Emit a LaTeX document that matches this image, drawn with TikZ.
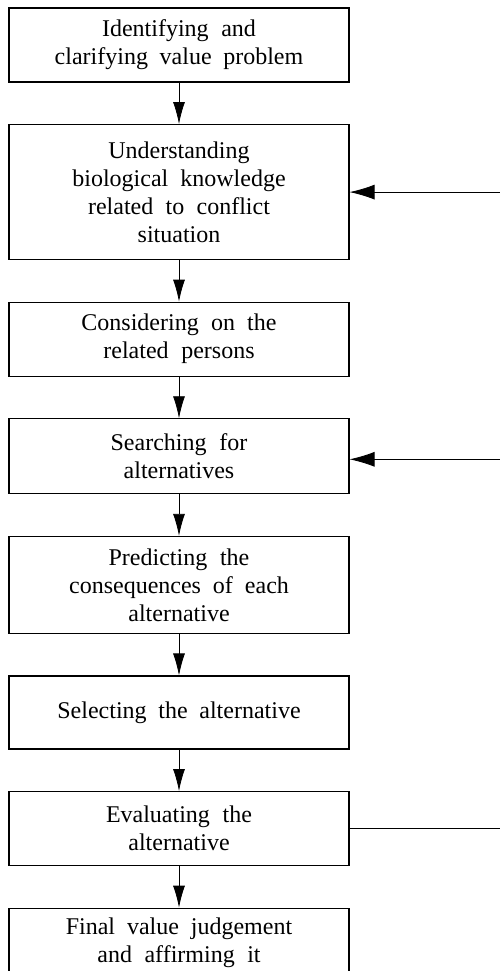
\documentclass[tikz,border=0pt]{standalone}
\usepackage{fontspec}
\setmainfont{Liberation Serif}
\usepackage{tikz}
\usetikzlibrary{positioning,arrows.meta}
\newcommand\stagefont{\fontsize{24}{28}\selectfont}
\tikzset{ %
  ,>={Latex[length=22pt,width=12pt]}
  ,stage/.style={draw, line width=1.1pt, rectangle, font=\stagefont, text width=310pt, inner xsep=15pt, inner ysep=0pt, align=center, node distance=41.5pt, execute at begin node={\spaceskip=11pt plus 1pt\relax}}
  ,flow/.style={->, line width=0.8pt}
  ,back/.style={line width=0.8pt, -{Latex[length=25pt,width=15pt]}}
}
\begin{document}
\begin{tikzpicture}
      \useasboundingbox (0,0) rectangle (499pt,-971pt);
      \draw
      node[stage, minimum height=74pt] (ident) at (179pt,-45pt) {Identifying and\\clarifying value problem}
      node[stage, minimum height=135pt, below=of ident] (know) {Understanding\\biological knowledge\\related to conflict\\situation}
      node[stage, minimum height=74pt, below=of know] (persons) {Considering on the\\related persons}
      node[stage, minimum height=75pt, below=of persons] (search) {Searching for\\alternatives}
      node[stage, minimum height=97pt, below=of search] (predict) {Predicting the\\consequences of each\\alternative}
      node[stage, minimum height=73pt, below=of predict] (select) {Selecting the alternative}
      node[stage, minimum height=74pt, below=of select] (eval) {Evaluating the\\alternative}
      node[stage, minimum height=70pt, below=of eval] (final) {Final value judgement\\and affirming it};
      % feedback ends at the right margin
      \coordinate[right=150pt of know] (fbKnow);
      \coordinate[right=150pt of search, yshift=-3pt] (fbSearch);
      \coordinate[right=150pt of eval] (fbEval);
      \draw [flow] (ident) edge (know) (know) edge (persons) (persons) edge (search)
        (search) edge (predict) (predict) edge (select) (select) edge (eval) (eval) edge (final);
      \draw [back] (fbKnow) -- (fbKnow -| know.east);
      \draw [back] (fbSearch) -- (fbSearch -| search.east);
      \draw [line width=0.8pt] (fbEval) -- (eval);
    \end{tikzpicture}
\end{document}
